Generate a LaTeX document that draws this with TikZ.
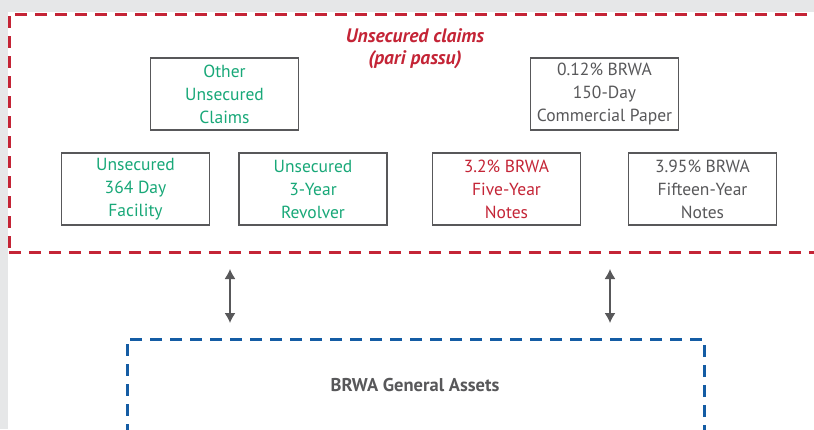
\documentclass[tikz,border=0pt]{standalone}
\usepackage{fontspec}
\setmainfont{PT Sans}
\usetikzlibrary{arrows.meta, positioning}

\definecolor{claimred}{RGB}{196,36,54}
\definecolor{claimgreen}{RGB}{24,168,120}
\definecolor{assetblue}{RGB}{20,92,164}
\definecolor{boxgray}{RGB}{88,88,90}
\definecolor{pagegray}{RGB}{230,231,232}

\begin{document}
\begin{tikzpicture}[x=1pt, y=-1pt,
    claimbox/.style={draw=boxgray, line width=1.3pt, minimum width=148pt, minimum height=72pt,
        inner sep=0pt, align=center, font=\fontsize{17.5}{23}\selectfont},
    frame/.style={line width=3pt, dash pattern=on 12pt off 8pt, inner sep=0pt},
    biarrow/.style={draw=boxgray, line width=1.4pt, {Latex[length=10pt, width=11pt]}-{Latex[length=10pt, width=11pt]}}]
    \useasboundingbox (0,0) rectangle (814,429);
    \clip (0,0) rectangle (814,429);
    \fill[pagegray] (0,0) rectangle (814,429);
    \fill[white] (8,12) rectangle (814,429);

    % unsecured claims, all pari passu
    \node[frame, draw=claimred, minimum width=850pt, minimum height=238pt] (unsecured) at (434,133) {};
    \node[claimred, align=center, font=\fontsize{19.5}{22}\selectfont\bfseries\itshape] (title) at (415,49)
        {Unsecured claims\\(pari passu)};

    \node[claimbox, text=claimgreen] (other) at (224.5,94) {Other\\Unsecured\\Claims};
    \node[claimbox, text=boxgray] (paper) at (604.5,94) {0.12\% BRWA\\150-Day\\Commercial Paper};
    \node[claimbox, text=claimgreen] (facility) at (135.5,189) {Unsecured\\364 Day\\Facility};
    \node[claimbox, text=claimgreen] (revolver) at (313,189) {Unsecured\\3-Year\\Revolver};
    \node[claimbox, text=claimred] (fiveyear) at (506.5,189) {3.2\% BRWA\\Five-Year\\Notes};
    \node[claimbox, text=boxgray] (fifteenyear) at (702.5,189) {3.95\% BRWA\\Fifteen-Year\\Notes};

    % general assets
    \node[frame, draw=assetblue, minimum width=577pt, minimum height=141pt] (assets) at (415.5,409.5) {};
    \node[text=boxgray, font=\fontsize{18.5}{20}\selectfont\bfseries] (assetname) at (415,385) {BRWA General Assets};

    \coordinate (leftup) at (230,269);
    \coordinate (leftdown) at (230,323);
    \coordinate (rightup) at (610,269);
    \coordinate (rightdown) at (610,323);
    \draw[biarrow] (leftup) -- (leftdown);
    \draw[biarrow] (rightup) -- (rightdown);
\end{tikzpicture}
\end{document}
